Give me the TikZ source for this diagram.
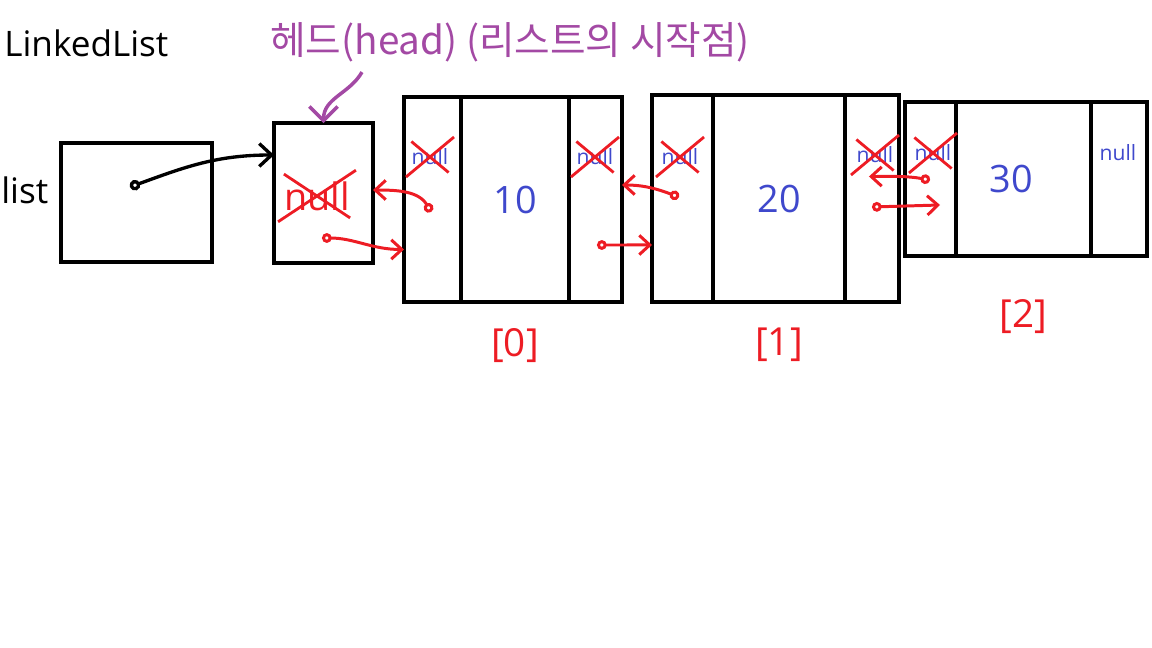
\documentclass[tikz,border=0pt]{standalone}
\usepackage{fontspec}
\setmainfont{Open Sans}
\newfontfamily\krfont{Noto Sans CJK KR}
\usetikzlibrary{positioning,arrows.meta}
\definecolor{penred}{RGB}{237,28,36}
\definecolor{penpurple}{RGB}{163,73,164}
\definecolor{textblue}{RGB}{63,72,204}
\newcommand{\crossout}[1]{\draw[crossline] (#1.north west)--(#1.south east) (#1.south west)--(#1.north east);}
\tikzset{
  box/.style={draw, line width=2.4pt, outer sep=0pt, inner sep=0pt},
  title/.style={anchor=west, inner sep=0pt, font=\fontsize{20}{23}\selectfont},
  headnote/.style={anchor=west, inner sep=0pt, text=penpurple, font=\fontsize{22}{26}\selectfont},
  nulltext/.style={inner xsep=0pt, inner ysep=4pt, text=textblue, font=\fontsize{12}{14}\selectfont},
  datatext/.style={text=textblue, font=\fontsize{21.5}{24}\selectfont},
  idx/.style={text=penred, font=\fontsize{22}{26}\selectfont},
  crossline/.style={penred, line width=1.6pt, shorten <=-4pt, shorten >=-4pt},
  link/.style={penred, line width=1.7pt, {Circle[open,length=5.5pt]}-{Straight Barb[length=6pt,width=11pt]}},
  listptr/.style={black, line width=1.9pt, {Circle[open,length=6pt]}-{Straight Barb[length=7pt,width=13pt]}},
  headptr/.style={penpurple, line width=2pt, -{Straight Barb[length=8pt,width=16pt]}},
}
\begin{document}
\begin{tikzpicture}[x=0.02cm,y=-0.02cm]
\useasboundingbox (0,0) rectangle (1152,648);
% titles
\node[title] (ttl) at (4,43) {LinkedList};
\node[title] (lst) at (1,190) {list};
\node[headnote] (hdtxt) at (270,42) {\krfont 헤드(head) (리스트의 시작점)};
% list variable and head
\node[box, minimum width=3.02cm, minimum height=2.38cm] (lbox) at (136.5,202.5) {};
\node[box, minimum width=1.98cm, minimum height=2.8cm] (hd) at (323.5,193) {};
\node[nulltext, text=penred, font=\fontsize{21.5}{24}\selectfont] (hdnull) at (317,196) {null};
% node [0]
\node[box, minimum width=1.14cm, minimum height=4.1cm] (n0p) at (432.5,199.5) {};
\node[box, datatext, minimum width=2.16cm, minimum height=4.1cm, right=0pt of n0p] (n0d) {10};
\node[box, minimum width=1.06cm, minimum height=4.1cm, right=0pt of n0d] (n0n) {};
% node [1]
\node[box, minimum width=1.22cm, minimum height=4.14cm] (n1p) at (682.5,198.5) {};
\node[box, datatext, minimum width=2.64cm, minimum height=4.14cm, right=0pt of n1p] (n1d) {20};
\node[box, minimum width=1.08cm, minimum height=4.14cm, right=0pt of n1d] (n1n) {};
% node [2]
\node[box, minimum width=1.02cm, minimum height=3.08cm] (n2p) at (930.5,179) {};
\node[box, datatext, minimum width=2.7cm, minimum height=3.08cm, right=0pt of n2p] (n2d) {30\kern0.5cm};
\node[box, minimum width=1.12cm, minimum height=3.08cm, right=0pt of n2d] (n2n) {};
% null fields
\node[nulltext] (n0pnull) at (430,157) {null};
\node[nulltext] (n0nnull) at (595,157) {null};
\node[nulltext] (n1pnull) at (680,157) {null};
\node[nulltext] (n1nnull) at (875,155) {null};
\node[nulltext] (n2pnull) at (933,153) {null};
\node[nulltext] (n2nnull) at (1118,153) {null};
\crossout{hdnull}\crossout{n0pnull}\crossout{n0nnull}\crossout{n1pnull}\crossout{n1nnull}\crossout{n2pnull}
% indices
\node[idx, below=0.4cm of n0d] (i0) {[0]};
\node[idx, below=0.4cm of n1d] (i1) {[1]};
\node[idx, below=0.75cm of n2d] (i2) {[2]};
% pointers
\coordinate (lptr) at (130,187);
\coordinate (hdtail) at (322,238);
\coordinate (n0ptail) at (431,212);
\coordinate (n0ntail) at (597,245);
\coordinate (n1ptail) at (679,197);
\coordinate (n1ntail) at (872,207);
\coordinate (n2ptail) at (930,180);
\draw[listptr] (lptr) to[out=20,in=180] ([yshift=0.76cm]hd.west);
\draw[headptr] ([xshift=1.84cm,yshift=-0.2cm]hdtxt.south west) to[out=240,in=90] (hd.north);
\draw[link] (hdtail) to[out=0,in=180] ([yshift=-1cm]n0p.west);
\draw[link] (n0ptail) to[out=120,in=0] ([yshift=0.06cm]hd.east);
\draw[link] (n1ptail) to[out=160,in=0] ([yshift=0.29cm]n0n.east);
\draw[link] (n0ntail) -- ([yshift=-0.93cm]n1p.west);
\draw[link] (n2ptail) to[out=170,in=0] ([shift={(-0.6cm,0.44cm)}]n1n.east);
\draw[link] (n1ntail) -- ([shift={(0.7cm,-0.52cm)}]n2p.west);
\end{tikzpicture}
\end{document}
